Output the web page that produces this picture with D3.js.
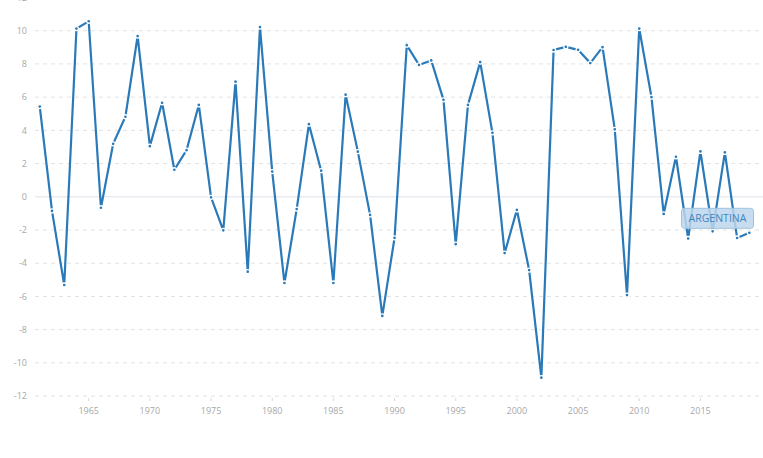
<!DOCTYPE html>
<html>
<head>
<meta charset="utf-8">
<script src="https://cdn.jsdelivr.net/npm/d3@7"></script>
<style>
  html, body { margin: 0; padding: 0; background: #fff; }
  svg { display: block; font-family: "Open Sans", sans-serif; }
</style>
</head>
<body>
<svg id="chart" width="763" height="458"></svg>
<script>
const years = d3.range(1961, 2020);
const values = [
  5.43, -0.85, -5.31, 10.13, 10.57, -0.66, 3.19, 4.82, 9.68, 3.05,
  5.66, 1.63, 2.81, 5.53, -0.03, -2.02, 6.93, -4.51, 10.22, 1.52,
  -5.19, -0.74, 4.37, 1.57, -5.19, 6.15, 2.72, -1.09, -7.17, -2.47,
  9.13, 7.94, 8.21, 5.84, -2.85, 5.53, 8.11, 3.85, -3.39, -0.79,
  -4.41, -10.89, 8.84, 9.03, 8.85, 8.05, 9.01, 4.06, -5.92, 10.13,
  6.00, -1.03, 2.41, -2.51, 2.73, -2.08, 2.67, -2.48, -2.17
];
const yTicks = [-12, -10, -8, -6, -4, -2, 0, 2, 4, 6, 8, 10, 12];
const xTicks = [1965, 1970, 1975, 1980, 1985, 1990, 1995, 2000, 2005, 2010, 2015];
const seriesName = "ARGENTINA";

const data = years.map((y, i) => ({ year: y, value: values[i] }));

const svg = d3.select("#chart");
const x = d3.scaleLinear().domain([1965, 2015]).range([88.7, 700.4]);
const y = d3.scaleLinear().domain([-12, 12]).range([396.1, -2.5]);

const gridLeft = 35, gridRight = 763;

// grid lines
const grid = svg.append("g");
grid.selectAll("line").data(yTicks.filter(t => t !== 0)).join("line")
  .attr("x1", gridLeft).attr("x2", gridRight)
  .attr("y1", d => y(d)).attr("y2", d => y(d))
  .attr("stroke", "#e3e3e3").attr("stroke-width", 1)
  .attr("stroke-dasharray", "4,4");
grid.append("line")
  .attr("x1", gridLeft).attr("x2", gridRight)
  .attr("y1", y(0)).attr("y2", y(0))
  .attr("stroke", "#e8ecf1").attr("stroke-width", 1.5);

// y tick labels
svg.append("g").selectAll("text").data(yTicks).join("text")
  .attr("x", 27).attr("y", d => y(d)).attr("dy", "0.35em")
  .attr("text-anchor", "end")
  .attr("font-size", 9).attr("fill", "#a8a8a8")
  .text(d => d);

// x axis ticks
const xa = svg.append("g");
xa.selectAll("line").data(xTicks).join("line")
  .attr("x1", d => x(d)).attr("x2", d => x(d))
  .attr("y1", 398).attr("y2", 401)
  .attr("stroke", "#d8d8d8").attr("stroke-width", 1);
xa.selectAll("text").data(xTicks).join("text")
  .attr("x", d => x(d)).attr("y", 411).attr("dy", "0.35em")
  .attr("text-anchor", "middle")
  .attr("font-size", 9).attr("fill", "#a8a8a8")
  .text(d => d);

// line
const color = "#2a7ab9";
const line = d3.line().x(d => x(d.year)).y(d => y(d.value));
svg.append("path").datum(data)
  .attr("d", line)
  .attr("fill", "none")
  .attr("stroke", color)
  .attr("stroke-width", 2.2)
  .attr("stroke-linejoin", "miter");

// markers
svg.append("g").selectAll("circle").data(data).join("circle")
  .attr("cx", d => x(d.year)).attr("cy", d => y(d.value))
  .attr("r", 2)
  .attr("fill", color)
  .attr("stroke", "#fff").attr("stroke-width", 1.3);

// series label
const last = data[data.length - 1];
const lg = svg.append("g");
const bx = 681.5, by = 208.3, bw = 72, bh = 20;
lg.append("rect")
  .attr("x", bx).attr("y", by).attr("width", bw).attr("height", bh)
  .attr("rx", 3).attr("ry", 3)
  .attr("fill", "rgba(189,215,236,0.85)")
  .attr("stroke", "#9ec3e0").attr("stroke-width", 1);
lg.append("text")
  .attr("x", bx + bw / 2).attr("y", by + bh / 2).attr("dy", "0.35em")
  .attr("text-anchor", "middle")
  .attr("font-size", 10.5).attr("fill", "#3d86c0")
  .text(seriesName);
</script>
</body>
</html>
